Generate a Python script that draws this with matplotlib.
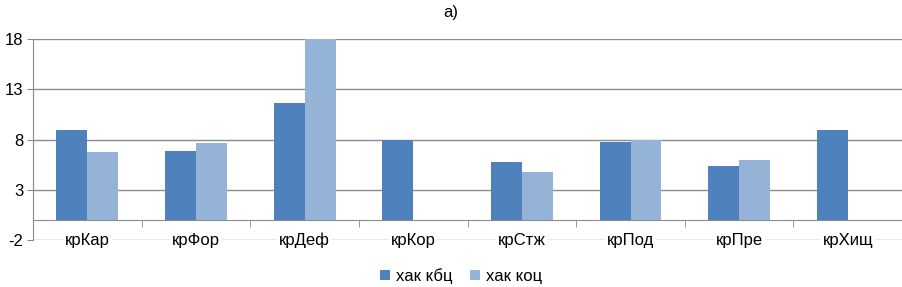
import matplotlib
matplotlib.use("Agg")
import matplotlib.pyplot as plt
import numpy as np
from matplotlib.patches import Patch

plt.rcParams['font.family'] = ['Liberation Sans', 'DejaVu Sans']

categories = ["крКар", "крФор", "крДеф", "крКор", "крСтж", "крПод", "крПре", "крХищ"]
series_names = ["хак кбц", "хак коц"]
kbc = [8.95, 6.9, 11.65, 7.95, 5.75, 7.75, 5.35, 8.95]
koc = [6.75, 7.65, 18.0, 0.0, 4.75, 7.95, 5.95, 0.0]
yticks = [-2, 3, 8, 13, 18]
title = "а)"

c_dark = "#4F81BD"
c_light = "#95B3D7"
grid_c = "#8C8C8C"

fig = plt.figure(figsize=(9.03, 2.87), dpi=100)
ax = fig.add_axes([33/903, 47/287, 1 - 33/903 - 0.001, (247.7-47)/287])

x = np.arange(len(categories))
w = 0.285
ax.bar(x - w/2, kbc, width=w, color=c_dark, zorder=3)
ax.bar(x + w/2, koc, width=w, color=c_light, zorder=3)

ax.set_xlim(-0.5, len(categories) - 0.5)
ax.set_ylim(-2, 18)
ax.set_yticks(yticks)
ax.set_yticklabels([str(t) for t in yticks], fontsize=12)
ax.tick_params(axis='y', length=4, color=grid_c, pad=3)
ax.yaxis.grid(True, color=grid_c, linewidth=1, zorder=0)
ax.set_axisbelow(True)

for s in ['top', 'right']:
    ax.spines[s].set_visible(False)
ax.spines['left'].set_color(grid_c)
ax.spines['bottom'].set_position(('data', 0))
ax.spines['bottom'].set_color(grid_c)
ax.spines['bottom'].set_zorder(4)

ax.set_xticks(x)
ax.set_xticklabels([])
ax.tick_params(axis='x', which='major', length=0)
ax.set_xticks(np.arange(len(categories) + 1) - 0.5, minor=True)
ax.tick_params(axis='x', which='minor', length=5, color=grid_c, direction='out')

for xi, lab in zip(x, categories):
    ax.text(xi, -2, lab, ha='center', va='center', fontsize=12,
            bbox=dict(facecolor='white', edgecolor='none', pad=1.5), zorder=5)

fig.text(451/903, 1 - 13/287, title, ha='center', va='center', fontsize=12)

handles = [Patch(facecolor=c_dark), Patch(facecolor=c_light)]
fig.legend(handles, series_names, loc='center', bbox_to_anchor=(461/903, 1 - 276/287),
           ncol=2, frameon=False, fontsize=12, handlelength=0.6, handleheight=0.6,
           handletextpad=0.4, columnspacing=1.0)

fig.savefig("out.png", dpi=100)
